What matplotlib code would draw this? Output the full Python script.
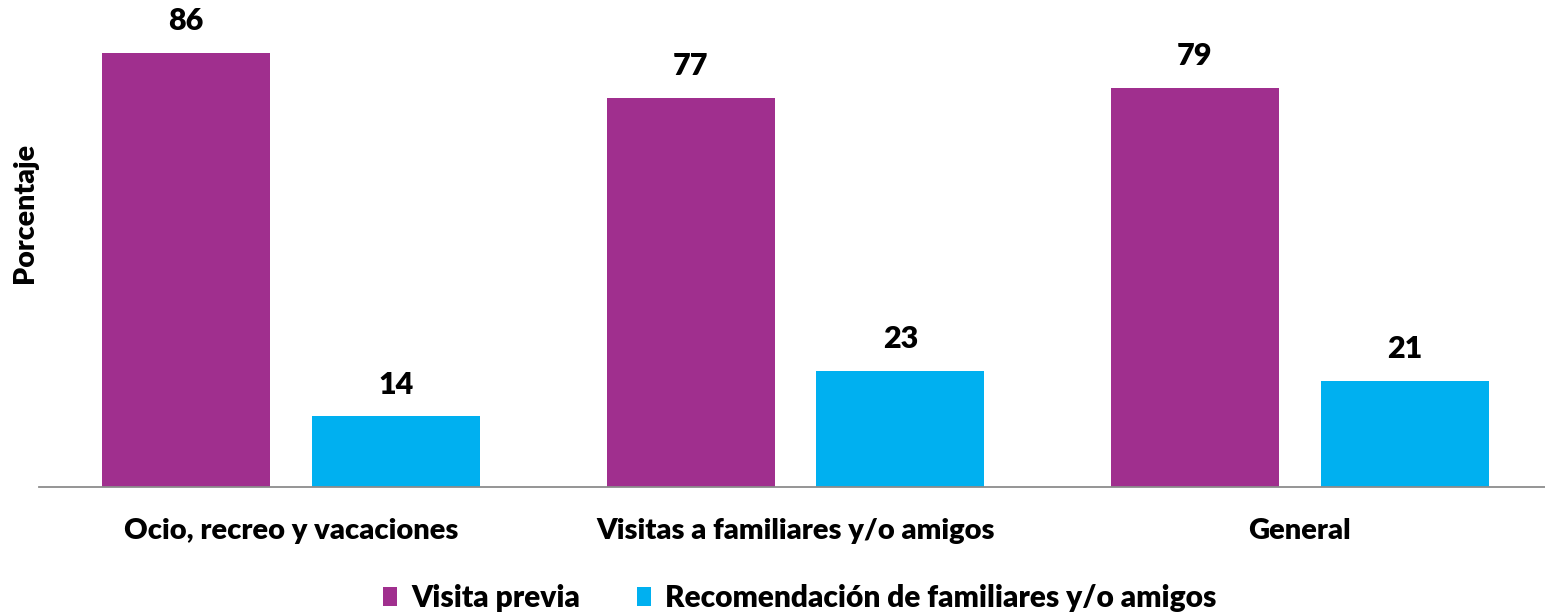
import matplotlib
matplotlib.use("Agg")
import matplotlib.pyplot as plt
import numpy as np
from matplotlib.patches import Patch

categories = ["Ocio, recreo y vacaciones", "Visitas a familiares y/o amigos", "General"]
series_names = ["Visita previa", "Recomendación de familiares y/o amigos"]
visita_previa = [86, 77, 79]
recomendacion = [14, 23, 21]
colors = ["#A02F8E", "#00B0F0"]

plt.rcParams['font.family'] = ['Lato', 'DejaVu Sans']
WEIGHT = 'heavy'

W, H = 1545, 614
fig = plt.figure(figsize=(W / 100, H / 100), dpi=100)
ax = fig.add_axes([39 / W, 127 / H, (W - 39) / W, (H - 127 - 2) / H])

x = np.arange(len(categories))
bw = 0.333
off = 0.208
for vals, sign, col in [(visita_previa, -1, colors[0]), (recomendacion, 1, colors[1])]:
    bars = ax.bar(x + sign * off, vals, width=bw, color=col, zorder=2)
    for b, v in zip(bars, vals):
        ax.text(b.get_x() + b.get_width() / 2, v + 3.5, str(v), ha='center', va='bottom',
                fontsize=22, fontweight=WEIGHT, color='black', clip_on=False)

ax.set_xlim(-0.5, 2.486)
ax.set_ylim(0, 96)
for s in ['top', 'right', 'left']:
    ax.spines[s].set_visible(False)
ax.spines['bottom'].set_color('#8C8C8C')
ax.spines['bottom'].set_linewidth(1.3)
ax.set_yticks([])
ax.set_xticks(x)
ax.set_xticklabels(categories, fontsize=21, fontweight=WEIGHT)
ax.tick_params(axis='x', length=0, pad=22)

fig.text(25 / W, 1 - 213 / H, "Porcentaje", rotation=90, ha='center', va='center',
         fontsize=20.5, fontweight=WEIGHT)

handles = [Patch(facecolor=c, edgecolor='none') for c in colors]
fig.legend(handles, series_names, loc='center', bbox_to_anchor=(800 / W, 1 - 598 / H),
           ncol=2, frameon=False, prop={'weight': WEIGHT, 'size': 21.5},
           handlelength=0.45, handleheight=0.64, handletextpad=0.5, columnspacing=1.9)

fig.savefig("out.png", dpi=100)
